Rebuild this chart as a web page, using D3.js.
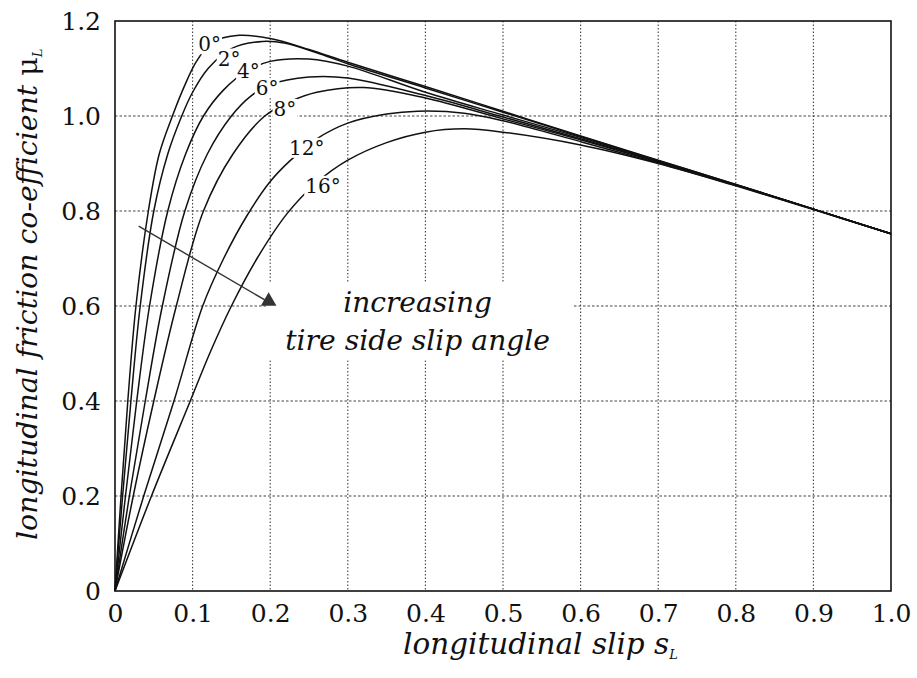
<!DOCTYPE html>
<html>
<head>
<meta charset="utf-8">
<script src="https://cdn.jsdelivr.net/npm/d3@7"></script>
<style>
  html, body { margin: 0; padding: 0; background: #fff; }
  svg { display: block; }
</style>
</head>
<body>
<svg id="chart" width="917" height="678"></svg>
<script>
// ---------- data ----------
const xTicks = [0, 0.1, 0.2, 0.3, 0.4, 0.5, 0.6, 0.7, 0.8, 0.9, 1.0];
const xTickLabels = ["0", "0.1", "0.2", "0.3", "0.4", "0.5", "0.6", "0.7", "0.8", "0.9", "1.0"];
const yTicks = [0, 0.2, 0.4, 0.6, 0.8, 1.0, 1.2];
const yTickLabels = ["0", "0.2", "0.4", "0.6", "0.8", "1.0", "1.2"];

const slipAngleLabels = ["0°", "2°", "4°", "6°", "8°", "12°", "16°"];

// [longitudinal slip s_L, friction coefficient mu_L]
const curve0 = [[0,0],[0.0078,0.2],[0.0165,0.4],[0.027,0.6],[0.043,0.8],[0.057,0.92],[0.074,1.0],[0.09,1.065],[0.105,1.115],[0.125,1.155],[0.16,1.17],[0.2,1.163],[0.25,1.14],[0.3,1.113],[0.4,1.062],[0.5,1.01],[0.6,0.958],[0.7,0.907],[0.8,0.856],[0.9,0.804],[1.0,0.752]];
const curve2 = [[0,0],[0.0098,0.2],[0.0205,0.4],[0.0325,0.6],[0.05,0.8],[0.068,0.92],[0.086,1.0],[0.1,1.05],[0.12,1.1],[0.15,1.142],[0.19,1.157],[0.22,1.153],[0.26,1.133],[0.3,1.11],[0.4,1.059],[0.5,1.008],[0.6,0.957],[0.7,0.906],[0.8,0.856],[0.9,0.804],[1.0,0.752]];
const curve4 = [[0,0],[0.0135,0.2],[0.028,0.4],[0.0445,0.6],[0.068,0.8],[0.091,0.92],[0.114,1.0],[0.14,1.055],[0.17,1.095],[0.2,1.115],[0.25,1.12],[0.3,1.105],[0.4,1.05],[0.5,1.002],[0.6,0.955],[0.7,0.905],[0.8,0.855],[0.9,0.804],[1.0,0.752]];
const curve6 = [[0,0],[0.0185,0.2],[0.039,0.4],[0.061,0.6],[0.09,0.8],[0.119,0.92],[0.15,1.0],[0.175,1.042],[0.2,1.066],[0.25,1.082],[0.3,1.08],[0.4,1.043],[0.5,0.998],[0.6,0.952],[0.7,0.904],[0.8,0.855],[0.9,0.804],[1.0,0.752]];
const curve8 = [[0,0],[0.0235,0.2],[0.05,0.4],[0.079,0.6],[0.114,0.8],[0.152,0.92],[0.193,1.0],[0.225,1.03],[0.26,1.05],[0.32,1.06],[0.4,1.038],[0.5,0.994],[0.6,0.95],[0.7,0.903],[0.8,0.855],[0.9,0.804],[1.0,0.752]];
const curve12 = [[0,0],[0.037,0.2],[0.076,0.4],[0.113,0.6],[0.14,0.7],[0.17,0.79],[0.2,0.862],[0.225,0.905],[0.26,0.952],[0.3,0.985],[0.35,1.004],[0.39,1.01],[0.45,1.006],[0.5,0.99],[0.6,0.946],[0.7,0.901],[0.8,0.854],[0.9,0.804],[1.0,0.752]];
const curve16 = [[0,0],[0.047,0.2],[0.097,0.4],[0.122,0.5],[0.15,0.6],[0.183,0.7],[0.222,0.795],[0.26,0.86],[0.3,0.907],[0.35,0.944],[0.4,0.966],[0.45,0.973],[0.5,0.966],[0.6,0.939],[0.7,0.9],[0.8,0.853],[0.9,0.803],[1.0,0.752]];

// label anchor points (data coords) for each slip angle
const labelS  = [0.122, 0.147, 0.172, 0.196, 0.219, 0.247, 0.268];
const labelMu = [1.151, 1.121, 1.095, 1.059, 1.015, 0.933, 0.853];

// annotation arrow (data coords)
const arrowFrom = [0.0305, 0.768];
const arrowTo = [0.198, 0.608];
const annotationLines = ["increasing", "tire side slip angle"];

// ---------- layout ----------
const curves = [curve0, curve2, curve4, curve6, curve8, curve12, curve16];
const svg = d3.select("#chart");
const m = { left: 115, right: 891, top: 21, bottom: 591 };
const x = d3.scaleLinear().domain([0, 1]).range([m.left, m.right]);
const y = d3.scaleLinear().domain([0, 1.2]).range([m.bottom, m.top]);
const serif = "'DejaVu Serif', 'Liberation Serif', serif";

// grid
const grid = svg.append("g").attr("class", "grid");
grid.selectAll("line.v").data(xTicks.slice(1, -1)).join("line")
  .attr("x1", d => x(d)).attr("x2", d => x(d))
  .attr("y1", m.top).attr("y2", m.bottom)
  .attr("stroke", "#444").attr("stroke-width", 1.1).attr("stroke-dasharray", "1.5,2");
grid.selectAll("line.h").data(yTicks.slice(1, -1)).join("line")
  .attr("x1", m.left).attr("x2", m.right)
  .attr("y1", d => y(d)).attr("y2", d => y(d))
  .attr("stroke", "#444").attr("stroke-width", 1.1).attr("stroke-dasharray", "2.5,2");

// white box behind annotation (breaks gridlines like in reference)
svg.append("rect")
  .attr("x", x(0.197)).attr("y", y(0.649))
  .attr("width", x(0.59) - x(0.197)).attr("height", y(0.486) - y(0.649))
  .attr("fill", "#fff");

// axes (tick labels only)
const xAxis = d3.axisBottom(x).tickValues(xTicks).tickSize(0).tickPadding(13)
  .tickFormat((d, i) => xTickLabels[i]);
const gx = svg.append("g").attr("transform", `translate(0,${m.bottom})`).call(xAxis);
gx.select(".domain").remove();
gx.selectAll("text").attr("font-family", serif).attr("font-size", 25).attr("fill", "#111");

const yAxis = d3.axisLeft(y).tickValues(yTicks).tickSize(0).tickPadding(14)
  .tickFormat((d, i) => yTickLabels[i]);
const gy = svg.append("g").attr("transform", `translate(${m.left},0)`).call(yAxis);
gy.select(".domain").remove();
gy.selectAll("text").attr("font-family", serif).attr("font-size", 25).attr("fill", "#111");

// curves
const line = d3.line().x(d => x(d[0])).y(d => y(d[1])).curve(d3.curveCatmullRom.alpha(0.5));
svg.append("g").selectAll("path").data(curves).join("path")
  .attr("d", line).attr("fill", "none").attr("stroke", "#111").attr("stroke-width", 1.5);

// curve labels with white backing boxes
const labBg = svg.append("g");
const labs = svg.append("g").selectAll("text").data(slipAngleLabels).join("text")
  .attr("x", (d, i) => x(labelS[i])).attr("y", (d, i) => y(labelMu[i]))
  .attr("text-anchor", "middle").attr("dominant-baseline", "central")
  .attr("font-family", serif).attr("font-size", 20).attr("fill", "#111")
  .text(d => d);
labs.each(function() {
  const b = this.getBBox();
  labBg.append("rect")
    .attr("x", b.x - 1).attr("y", b.y + 2)
    .attr("width", b.width + 2).attr("height", b.height - 4)
    .attr("fill", "#fff");
});

// arrow
svg.append("line")
  .attr("x1", x(arrowFrom[0])).attr("y1", y(arrowFrom[1]))
  .attr("x2", x(arrowTo[0])).attr("y2", y(arrowTo[1]))
  .attr("stroke", "#333").attr("stroke-width", 1.4);
svg.append("path")
  .attr("d", d3.symbol().type(d3.symbolTriangle).size(105)())
  .attr("transform", `translate(${x(arrowTo[0])},${y(arrowTo[1]) - 1})`)
  .attr("fill", "#333");

// annotation text
const ann = svg.append("g").attr("font-family", serif).attr("font-style", "italic")
  .attr("font-size", 24).attr("fill", "#111").attr("text-anchor", "middle");
ann.append("text").attr("x", x(0.39)).attr("y", y(0.587)).text(annotationLines[0]);
ann.append("text").attr("x", x(0.39)).attr("y", y(0.507)).text(annotationLines[1]);

// frame
svg.append("rect")
  .attr("x", m.left).attr("y", m.top)
  .attr("width", m.right - m.left).attr("height", m.bottom - m.top)
  .attr("fill", "none").attr("stroke", "#111").attr("stroke-width", 1.6);

// axis titles
const xt = svg.append("text").attr("x", 403).attr("y", 654)
  .attr("font-family", serif).attr("font-style", "italic").attr("font-size", 24).attr("fill", "#111");
xt.append("tspan").text("longitudinal slip s");
xt.append("tspan").attr("dy", 5).attr("font-size", 13).text("L");

const yt = svg.append("text")
  .attr("transform", "translate(37,540) rotate(-90)")
  .attr("font-family", serif).attr("font-style", "italic").attr("font-size", 24).attr("fill", "#111");
yt.append("tspan").text("longitudinal friction co-efficient ");
yt.append("tspan").attr("font-style", "normal").text("μ");
yt.append("tspan").attr("dy", 5).attr("font-size", 13).text("L");

// fit title lengths to reference widths
function fit(textSel, target) {
  const len = textSel.node().getComputedTextLength();
  textSel.attr("font-size", 24 * target / len);
}
fit(xt, 277);
fit(yt, 493);
ann.selectAll("text").each(function(d, i) {
  const len = this.getComputedTextLength();
  const target = i === 0 ? 149 : 265;
  d3.select(this).attr("font-size", 24 * target / len);
});
</script>
</body>
</html>
